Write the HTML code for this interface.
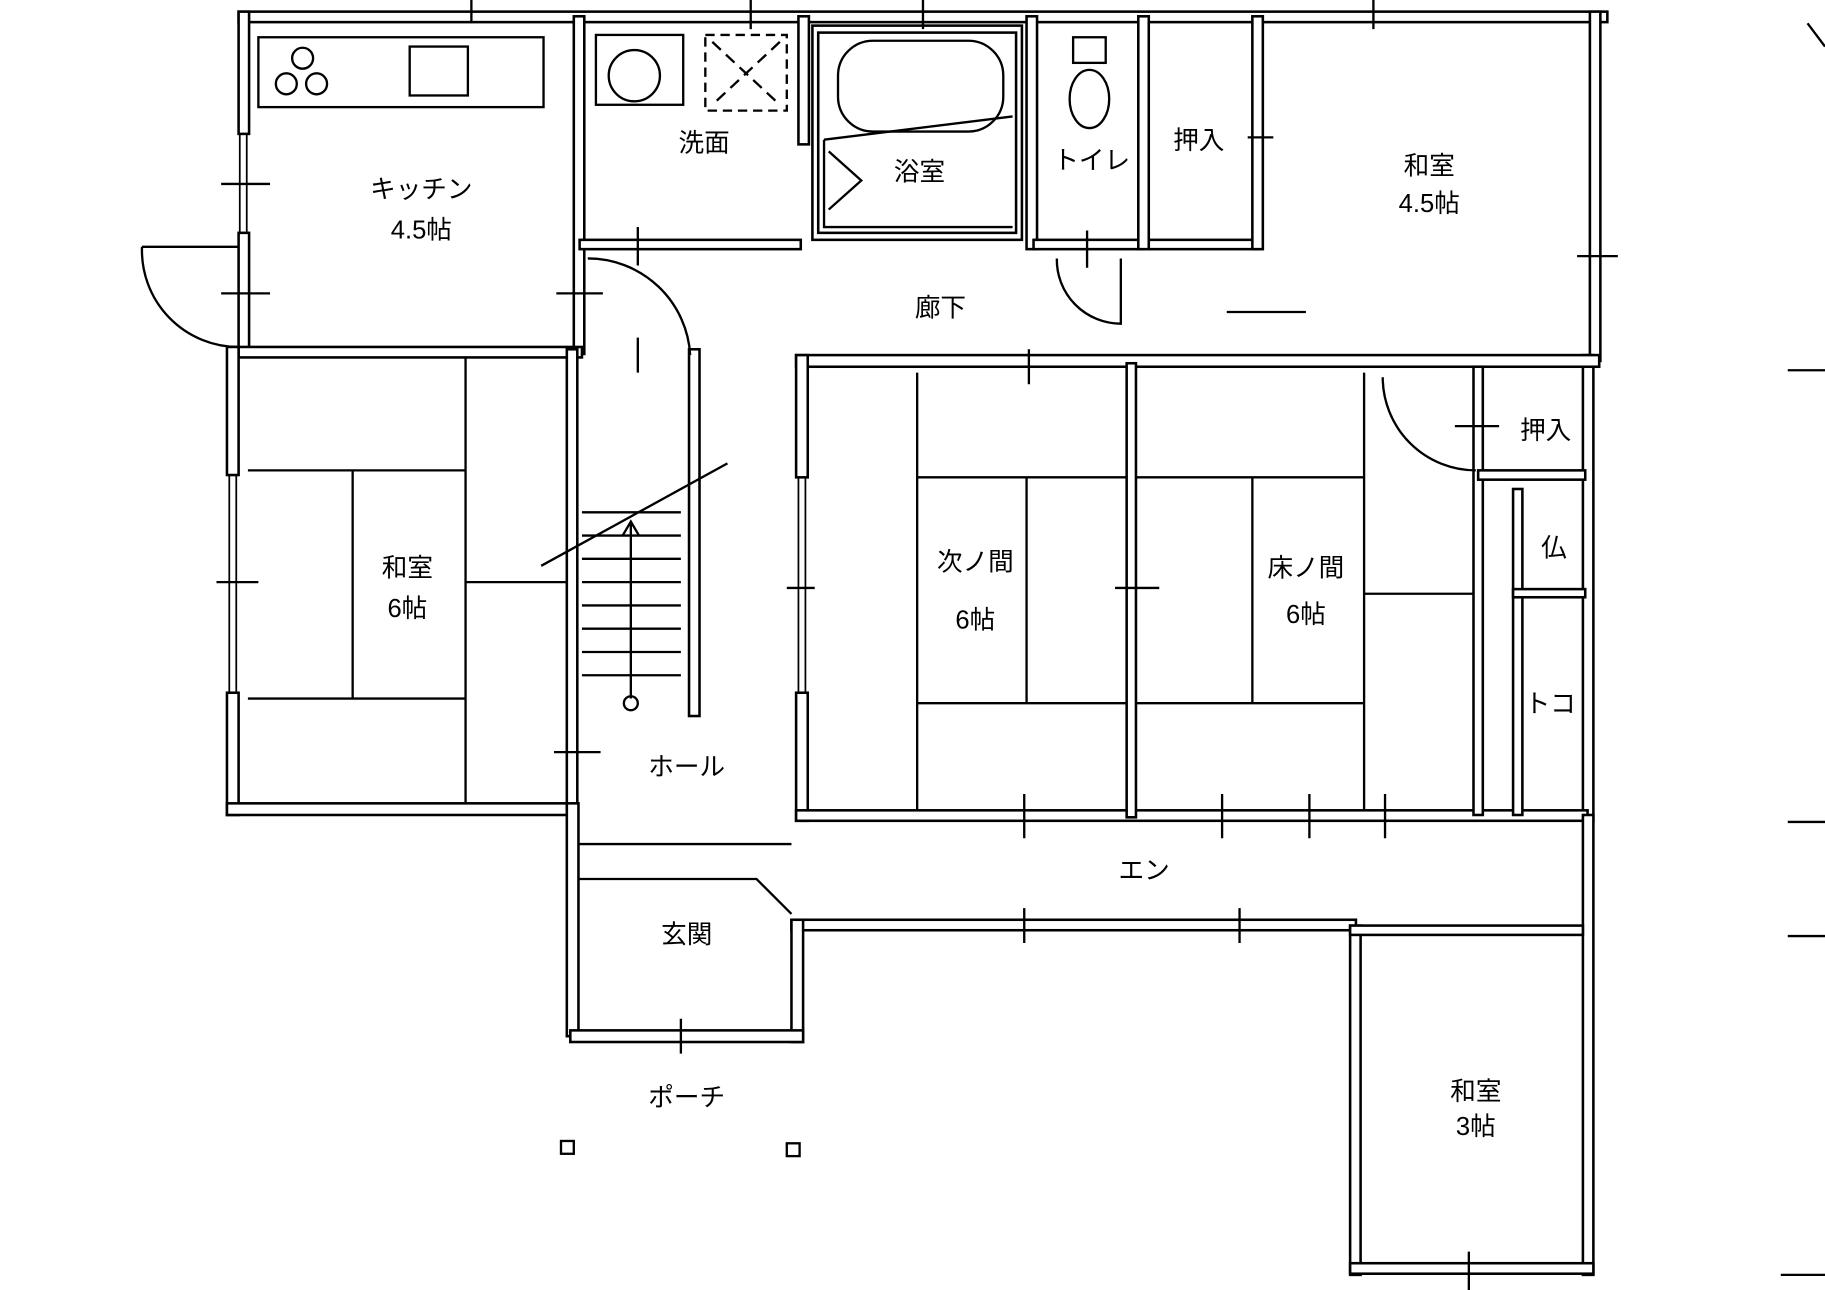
<!DOCTYPE html>
<html><head><meta charset="utf-8"><style>
html,body{margin:0;padding:0;background:#fff;}
svg{display:block;}
text{font-family:"Liberation Sans","Noto Sans CJK JP",sans-serif;font-size:22px;fill:#000;text-anchor:middle;}
</style></head><body>
<svg width="1825" height="1290" viewBox="0 0 1568 1108" preserveAspectRatio="none" xmlns="http://www.w3.org/2000/svg">
<g fill="#fff" stroke="#000" stroke-width="2.2">
<rect x="205" y="10" width="1176" height="9"/>
<rect x="205" y="10" width="9" height="105"/>
<rect x="205" y="200" width="9" height="100"/>
<rect x="493" y="14" width="9" height="290"/>
<rect x="498" y="206" width="190" height="8"/>
<rect x="686" y="14" width="9" height="110"/>
<rect x="698" y="22" width="180" height="184" fill="none"/>
<rect x="703" y="28" width="170" height="172" fill="none"/>
<rect x="882" y="14" width="9" height="200"/>
<rect x="888" y="206" width="95" height="8"/>
<rect x="978" y="14" width="9" height="200"/>
<rect x="987" y="206" width="95" height="8"/>
<rect x="1076" y="14" width="9" height="200"/>
<rect x="1366" y="10" width="9" height="300"/>
<rect x="1360" y="305" width="9" height="400"/>
<rect x="205" y="298" width="295" height="9"/>
<rect x="195" y="298" width="10" height="110"/>
<rect x="195" y="595" width="10" height="105"/>
<rect x="195" y="690" width="300" height="10"/>
<rect x="487" y="300" width="9" height="395"/>
<rect x="592" y="300" width="9" height="315"/>
<rect x="487" y="690" width="10" height="200"/>
<rect x="684" y="305" width="690" height="10"/>
<rect x="684" y="305" width="10" height="105"/>
<rect x="684" y="595" width="10" height="110"/>
<rect x="684" y="696" width="680" height="9"/>
<rect x="968" y="312" width="8" height="390"/>
<rect x="1266" y="315" width="8" height="385"/>
<rect x="1300" y="420" width="8" height="280"/>
<rect x="1270" y="404" width="92" height="8"/>
<rect x="1300" y="506" width="62" height="7"/>
<rect x="680" y="790" width="485" height="9"/>
<rect x="680" y="790" width="10" height="105"/>
<rect x="490" y="885" width="200" height="10"/>
<rect x="1160" y="795" width="9" height="300"/>
<rect x="1360" y="700" width="9" height="395"/>
<rect x="1160" y="1085" width="209" height="9"/>
<rect x="1160" y="795" width="200" height="8"/>
</g>
<g fill="none" stroke="#000" stroke-width="1.5">
<path d="M206 115 L206 200 M212 115 L212 200 M197 408 L197 595 M203 408 L203 595 M686 410 L686 595 M692 410 L692 595"/>
</g>
<g fill="none" stroke="#000" stroke-width="2">
<rect x="222" y="32" width="245" height="60"/>
<rect x="352" y="40" width="50" height="42"/>
<circle cx="260" cy="50" r="9"/><circle cx="246" cy="72" r="9"/><circle cx="272" cy="72" r="9"/>
<rect x="512" y="30" width="75" height="60"/>
<circle cx="545" cy="65" r="22"/>
<rect x="606" y="30" width="70" height="65" stroke-dasharray="8 5"/>
<path d="M612 36 L670 90 M670 36 L612 90" stroke-dasharray="10 6"/>
<rect x="720" y="35" width="142" height="78" rx="30"/>
<path d="M708 120 L870 100 M708 120 L708 195 L870 195 M712 130 L740 155 L712 180"/>
<ellipse cx="936" cy="85" rx="17" ry="25"/><rect x="922" y="32" width="28" height="22"/>
<path d="M122 212 L205 212 M122 212 A83 83 0 0 0 205 298"/>
<path d="M505 222 A88 88 0 0 1 593 305"/>
<path d="M908 222 A55 55 0 0 0 963 278 L963 222"/>
<path d="M1188 324 A80 80 0 0 0 1268 404"/>
<path d="M213 404 L400 404 L400 600 L213 600 M303 404 L303 600 M400 307 L400 690 M400 500 L487 500"/>
<path d="M788 320 L788 696 M788 410 L968 410 M788 604 L968 604 M882 410 L882 604 M976 410 L1172 410 M976 604 L1172 604 M1076 410 L1076 604 M1172 320 L1172 696 M1172 510 L1266 510"/>
<path d="M465 486 L625 398"/>
<path d="M500 460 L585 460 M500 480 L585 480 M500 500 L585 500 M500 520 L585 520 M500 540 L585 540 M500 560 L585 560 M500 580 L585 580 M500 440 L585 440"/>
<path d="M542 600 L542 450 M535 460 L542 448 L549 460"/>
<circle cx="542" cy="604" r="6"/>
<path d="M497 755 L650 755 L680 785 M497 725 L680 725"/>
<rect x="482" y="980" width="11" height="11"/>
<rect x="676" y="982" width="11" height="11"/>
<path d="M190 158 L232 158 M190 252 L232 252 M478 252 L518 252 M405 0 L405 20 M645 0 L645 25 M793 0 L793 25 M1180 0 L1180 25 M1054 268 L1122 268 M1072 118 L1094 118 M1355 220 L1390 220 M1250 366 L1288 366 M1536 318 L1568 318 M1536 706 L1568 706 M1536 804 L1568 804 M1530 1095 L1568 1095 M1553 20 L1568 40 M186 500 L222 500 M476 646 L516 646 M676 505 L700 505 M958 505 L996 505 M880 682 L880 720 M1050 682 L1050 720 M1125 682 L1125 720 M1190 682 L1190 720 M880 780 L880 810 M1065 780 L1065 810 M585 875 L585 905 M1262 1075 L1262 1108 M884 300 L884 330 M548 290 L548 320 M548 195 L548 228 M934 198 L934 230"/>
</g>
<text x="362" y="170">キッチン</text>
<text x="362" y="205">4.5帖</text>
<text x="605" y="130">洗面</text>
<text x="790" y="155">浴室</text>
<text x="938" y="145">トイレ</text>
<text x="1030" y="128">押入</text>
<text x="1228" y="150">和室</text>
<text x="1228" y="182">4.5帖</text>
<text x="808" y="272">廊下</text>
<text x="1328" y="377">押入</text>
<text x="1335" y="478">仏</text>
<text x="1332" y="612">トコ</text>
<text x="350" y="495">和室</text>
<text x="350" y="530">6帖</text>
<text x="838" y="490">次ノ間</text>
<text x="838" y="540">6帖</text>
<text x="1122" y="495">床ノ間</text>
<text x="1122" y="535">6帖</text>
<text x="590" y="666">ホール</text>
<text x="983" y="755">エン</text>
<text x="590" y="810">玄関</text>
<text x="590" y="950">ポーチ</text>
<text x="1268" y="945">和室</text>
<text x="1268" y="975">3帖</text>
</svg>
</body></html>
